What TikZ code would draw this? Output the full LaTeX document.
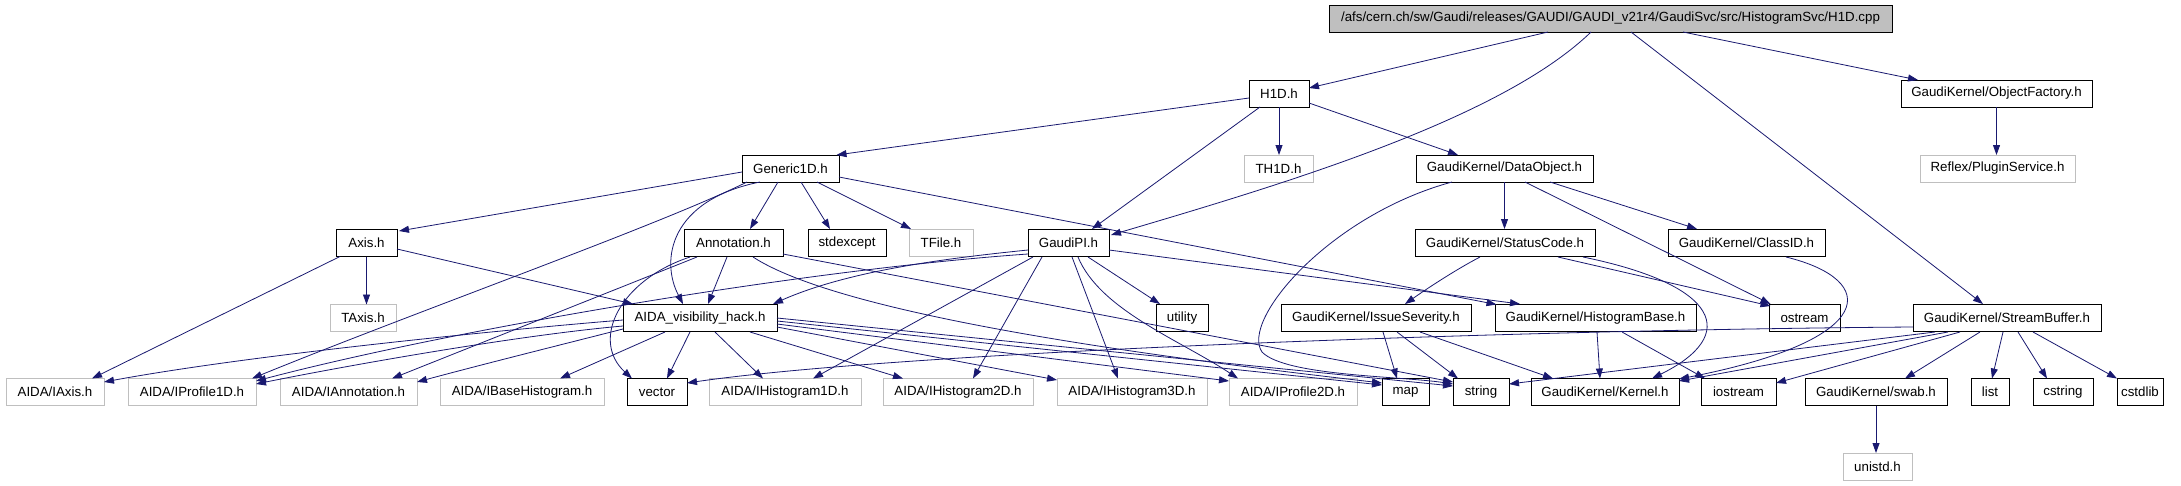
\documentclass[tikz,border=0pt]{standalone}
\usepackage{fontspec}
\setmainfont{Liberation Sans}
\usetikzlibrary{arrows.meta,calc}
\definecolor{edgec}{HTML}{191970}
\definecolor{grayb}{HTML}{BFBFBF}
\begin{document}
\begin{tikzpicture}[x=1pt,y=-1pt,
  box/.style={draw=black, line width=0.8pt, minimum height=27pt, inner sep=0pt,
    font=\fontsize{13.3}{15}\selectfont, text=black},
  ext/.style={box, draw=grayb},
  e/.style={draw=edgec, line width=0.8pt, -{Triangle[length=10pt,width=7pt]}}]
\useasboundingbox[fill=white] (0,0) rectangle (2181,485);
% row 0
\node[box, fill=grayb, minimum width=563pt] (cpp) at (1610.5,18.5) {/afs/cern.ch/sw/Gaudi/releases/GAUDI/GAUDI\_v21r4/GaudiSvc/src/HistogramSvc/H1D.cpp};
% row 1
\node[box, minimum width=60pt] (h1d) at (1279,93.5) {H1D.h};
\node[box, minimum width=191pt] (objf) at (1996.5,93.5) {GaudiKernel/ObjectFactory.h};
% row 2
\node[box, minimum width=97pt] (gen) at (790.5,168.5) {Generic1D.h};
\node[ext, minimum width=69pt] (th1d) at (1278.5,168.5) {TH1D.h};
\node[box, minimum width=177pt] (dobj) at (1504.5,168.5) {GaudiKernel/DataObject.h};
\node[ext, minimum width=155pt] (plug) at (1997.5,168.5) {Reflex/PluginService.h};
% row 3
\node[box, minimum width=61pt] (axis) at (366.5,243) {Axis.h};
\node[box, minimum width=99pt] (annot) at (733.5,243) {Annotation.h};
\node[box, minimum width=78pt] (stdex) at (847,243) {stdexcept};
\node[ext, minimum width=64pt] (tfile) at (941,243) {TFile.h};
\node[box, minimum width=81pt] (gpi) at (1068.5,243) {GaudiPI.h};
\node[box, minimum width=180pt] (stc) at (1505,243) {GaudiKernel/StatusCode.h};
\node[box, minimum width=157pt] (cid) at (1746.5,243) {GaudiKernel/ClassID.h};
% row 4
\node[ext, minimum width=66pt] (taxis) at (363,318) {TAxis.h};
\node[box, minimum width=154pt] (aida) at (700,318) {AIDA\_visibility\_hack.h};
\node[box, minimum width=52pt] (util) at (1182,318) {utility};
\node[box, minimum width=190pt] (issue) at (1376,318) {GaudiKernel/IssueSeverity.h};
\node[box, minimum width=201pt] (hbase) at (1595.5,318) {GaudiKernel/HistogramBase.h};
\node[box, minimum width=71pt] (ostr) at (1804.5,318) {ostream};
\node[box, minimum width=188pt] (sbuf) at (2007,318) {GaudiKernel/StreamBuffer.h};
% row 5
\node[ext, minimum width=98pt] (iaxis) at (55,392) {AIDA/IAxis.h};
\node[ext, minimum width=128pt] (iprof1) at (192,392) {AIDA/IProfile1D.h};
\node[ext, minimum width=137pt] (iannot) at (348.5,392) {AIDA/IAnnotation.h};
\node[ext, minimum width=164pt] (ibase) at (522,392) {AIDA/IBaseHistogram.h};
\node[box, minimum width=60pt] (vector) at (657,392) {vector};
\node[ext, minimum width=152pt] (ih1) at (785,392) {AIDA/IHistogram1D.h};
\node[ext, minimum width=150pt] (ih2) at (958,392) {AIDA/IHistogram2D.h};
\node[ext, minimum width=150pt] (ih3) at (1132,392) {AIDA/IHistogram3D.h};
\node[ext, minimum width=128pt] (iprof2) at (1293,392) {AIDA/IProfile2D.h};
\node[box, minimum width=47pt] (map) at (1405.5,392) {map};
\node[box, minimum width=56pt] (string) at (1481,392) {string};
\node[box, minimum width=148pt] (kernel) at (1605,392) {GaudiKernel/Kernel.h};
\node[box, minimum width=75pt] (iostr) at (1738.5,392) {iostream};
\node[box, minimum width=142pt] (swab) at (1876,392) {GaudiKernel/swab.h};
\node[box, minimum width=38pt] (list) at (1990,392) {list};
\node[box, minimum width=60pt] (cstring) at (2063,392) {cstring};
\node[box, minimum width=46pt] (cstdlib) at (2140,392) {cstdlib};
% row 6
\node[ext, minimum width=69pt] (unistd) at (1877.5,466.5) {unistd.h};

% edges from cpp
\draw[e] ($(cpp)+(-62.5,13.5)$) -- ($(h1d)+(30,-5.5)$);
\draw[e] ($(cpp)+(-19.5,13.5)$) .. controls (1500,120) and (1280,185) .. ($(gpi)+(42.5,-8)$);
\draw[e] ($(cpp)+(72.5,13.5)$) -- ($(objf)+(-78.5,-13.5)$);
\draw[e] ($(cpp)+(20.5,13.5)$) -- ($(sbuf)+(-24,-14)$);
% h1d
\draw[e] ($(h1d)+(-30,4.5)$) -- ($(gen)+(46,-13.5)$);
\draw[e] ($(h1d)+(0,13.5)$) -- ($(th1d)+(0.5,-13.5)$);
\draw[e] ($(h1d)+(-19,13.5)$) -- ($(gpi)+(23.5,-14)$);
\draw[e] ($(h1d)+(30,9.5)$) -- ($(dobj)+(-46.5,-13.5)$);
% objf
\draw[e] ($(objf)+(0,13.5)$) -- ($(plug)+(-1,-13.5)$);
% gen
\draw[e] ($(gen)+(-48.5,3.5)$) -- ($(axis)+(32.5,-12)$);
\draw[e] ($(gen)+(-43.5,13.5)$) .. controls (660,225) and (420,310) .. ($(iprof1)+(60,-13.5)$);
\draw[e] ($(gen)+(-30.5,13.5)$) .. controls (670,200) and (660,260) .. ($(aida)+(-17,-14)$);
\draw[e] ($(gen)+(-12.5,13.5)$) -- ($(annot)+(16.5,-14)$);
\draw[e] ($(gen)+(10.5,13.5)$) -- ($(stdex)+(-17,-14)$);
\draw[e] ($(gen)+(26.5,13.5)$) -- ($(tfile)+(-30,-14)$);
\draw[e] ($(gen)+(48.5,8.5)$) -- ($(hbase)+(-99,-13.5)$);
% axis
\draw[e] ($(axis)+(0,13.5)$) -- ($(taxis)+(3.5,-13.5)$);
\draw[e] ($(axis)+(-26.5,13.5)$) -- ($(iaxis)+(37,-13.5)$);
\draw[e] ($(axis)+(30.5,6)$) -- ($(aida)+(-67,-14)$);
% annot
\draw[e] ($(annot)+(-36.5,14)$) -- ($(iannot)+(43.5,-13.5)$);
\draw[e] ($(annot)+(-43.5,14)$) .. controls (620,280) and (590,340) .. ($(vector)+(-25,-13.5)$);
\draw[e] ($(annot)+(-6.5,14)$) -- ($(aida)+(8,-14)$);
\draw[e] ($(annot)+(19.5,14)$) .. controls (850,320) and (1200,362) .. ($(map)+(-23.5,-9)$);
\draw[e] ($(annot)+(49.5,11)$) -- ($(string)+(-28,-10)$);
% gpi
\draw[e] ($(gpi)+(-40.5,7)$) .. controls (950,258) and (850,270) .. ($(aida)+(73,-14)$);
\draw[e] ($(gpi)+(-40.5,11)$) .. controls (800,270) and (450,330) .. ($(iprof1)+(64,-11)$);
\draw[e] ($(gpi)+(-35.5,14)$) -- ($(ih1)+(28,-13.5)$);
\draw[e] ($(gpi)+(-26.5,14)$) -- ($(ih2)+(15,-13.5)$);
\draw[e] ($(gpi)+(3.5,14)$) -- ($(ih3)+(-14,-13.5)$);
\draw[e] ($(gpi)+(9.5,14)$) .. controls (1100,310) and (1180,340) .. ($(iprof2)+(-55,-13.5)$);
\draw[e] ($(gpi)+(19.5,14)$) -- ($(util)+(-22,-14)$);
\draw[e] ($(gpi)+(40.5,7)$) -- ($(hbase)+(-75.5,-14)$);
% dobj
\draw[e] ($(dobj)+(0,13.5)$) -- ($(stc)+(-0.5,-14)$);
\draw[e] ($(dobj)+(45.5,13.5)$) -- ($(cid)+(-49.5,-14)$);
\draw[e] ($(dobj)+(20.5,13.5)$) -- ($(ostr)+(-34,-14)$);
\draw[e] ($(dobj)+(-52.5,13.5)$) .. controls (1330,215) and (1240,320) .. (1262,352)
   .. controls (1285,376) and (1400,376) .. ($(string)+(-28,-8)$);
% stc
\draw[e] ($(stc)+(-25,14)$) .. controls (1455,270) and (1425,290) .. ($(issue)+(29,-14)$);
\draw[e] ($(stc)+(53,14)$) -- ($(ostr)+(-34,-12)$);
\draw[e] ($(stc)+(78,14)$) .. controls (1720,285) and (1740,335) .. ($(kernel)+(47,-13.5)$);
% cid
\draw[e] ($(cid)+(39.5,14)$) .. controls (1880,280) and (1880,340) .. ($(kernel)+(74,-13)$);
% issue
\draw[e] ($(issue)+(7,14)$) -- ($(map)+(-8.5,-13.5)$);
\draw[e] ($(issue)+(21,14)$) -- ($(string)+(-23,-13.5)$);
\draw[e] ($(issue)+(44,14)$) -- ($(kernel)+(-52,-13.5)$);
% hbase
\draw[e] ($(hbase)+(1.5,14)$) -- ($(kernel)+(-5,-13.5)$);
\draw[e] ($(hbase)+(26.5,14)$) -- ($(iostr)+(-33.5,-13.5)$);
% sbuf
\draw[e] ($(sbuf)+(-94,9)$) .. controls (1500,330) and (900,352) .. ($(vector)+(30,-9)$);
\draw[e] ($(sbuf)+(-72,14)$) -- ($(string)+(28,-8)$);
\draw[e] ($(sbuf)+(-59,14)$) -- ($(kernel)+(74,-11)$);
\draw[e] ($(sbuf)+(-47,14)$) -- ($(iostr)+(37.5,-9)$);
\draw[e] ($(sbuf)+(-27,14)$) -- ($(swab)+(29,-13.5)$);
\draw[e] ($(sbuf)+(-4,14)$) -- ($(list)+(2,-13.5)$);
\draw[e] ($(sbuf)+(11,14)$) -- ($(cstring)+(-16,-13.5)$);
\draw[e] ($(sbuf)+(26,14)$) -- ($(cstdlib)+(-23,-13.5)$);
% swab
\draw[e] ($(swab)+(0,13.5)$) -- ($(unistd)+(-1.5,-13.5)$);
% aida
\draw[e] ($(aida)+(-77,2)$) .. controls (500,330) and (250,355) .. ($(iaxis)+(49,-10)$);
\draw[e] ($(aida)+(-77,8)$) .. controls (520,335) and (350,365) .. ($(iprof1)+(64,-8)$);
\draw[e] ($(aida)+(-77,11)$) .. controls (560,345) and (480,365) .. ($(iannot)+(68.5,-10)$);
\draw[e] ($(aida)+(-35,14)$) -- ($(ibase)+(38,-13.5)$);
\draw[e] ($(aida)+(-10,14)$) -- ($(vector)+(10,-13.5)$);
\draw[e] ($(aida)+(15,14)$) -- ($(ih1)+(-22,-13.5)$);
\draw[e] ($(aida)+(50,14)$) -- ($(ih2)+(-55,-13.5)$);
\draw[e] ($(aida)+(77,9)$) -- ($(ih3)+(-75,-12)$);
\draw[e] ($(aida)+(77,6)$) -- ($(iprof2)+(-64,-11)$);
\draw[e] ($(aida)+(77,3)$) -- ($(map)+(-23.5,-7)$);
\draw[e] ($(aida)+(77,0)$) -- ($(string)+(-28,-6)$);
\end{tikzpicture}
\end{document}
